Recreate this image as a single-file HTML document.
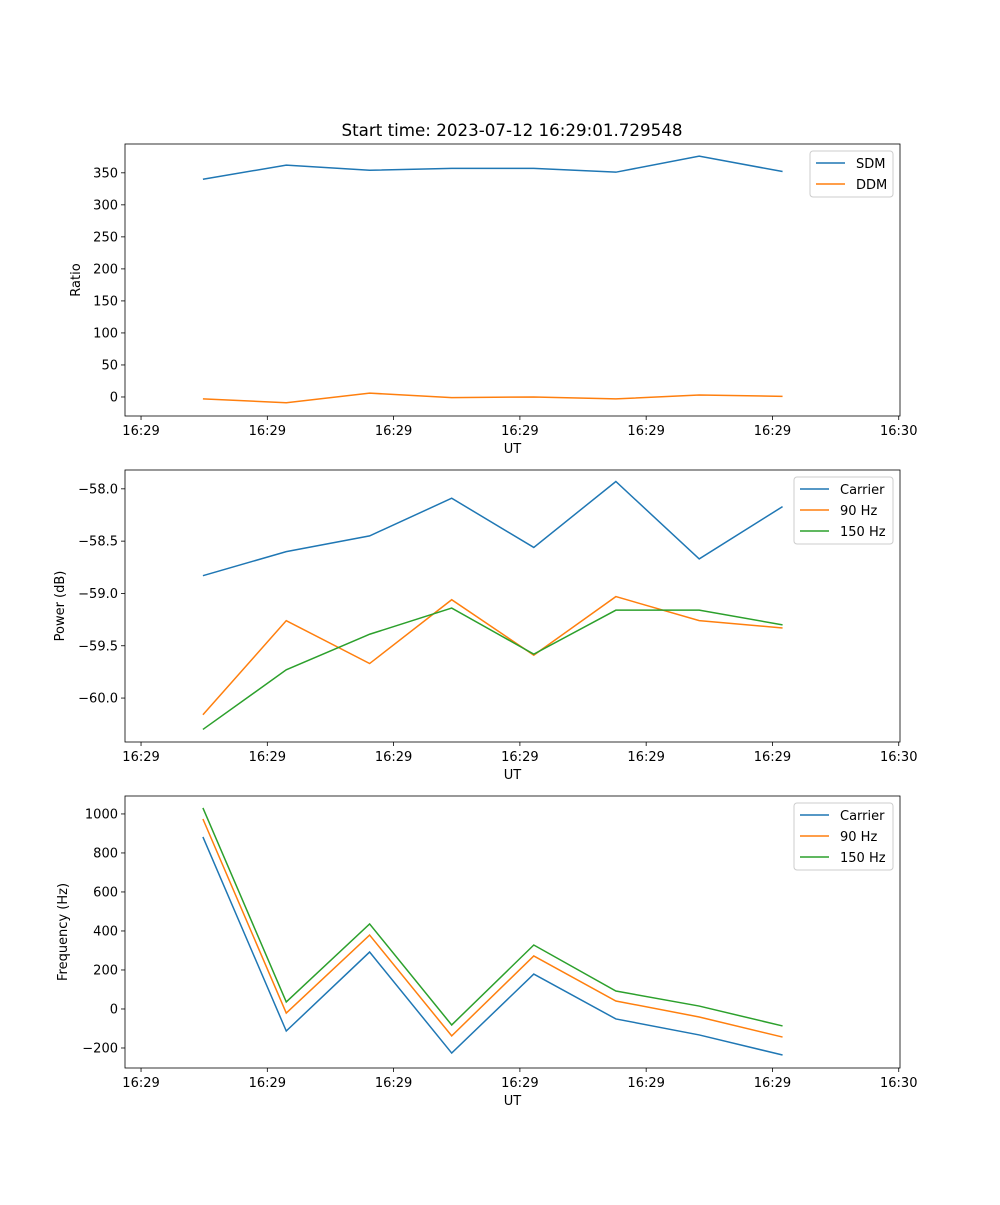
<!DOCTYPE html>
<html><head><meta charset="utf-8"><style>
body{margin:0;background:#fff}
svg text{font-family:"DejaVu Sans","Liberation Sans",sans-serif;font-size:13px;fill:#000}
</style></head><body>
<svg id="fig" width="1000" height="1200" xmlns="http://www.w3.org/2000/svg">
<text x="512" y="136" text-anchor="middle" style="font-size:16.7px">Start time: 2023-07-12 16:29:01.729548</text>
</svg>
<script>
const xTimes = [4.9, 11.5, 18.1, 24.6, 31.1, 37.6, 44.2, 50.8];
const xTicks = [0, 10, 20, 30, 40, 50, 60];
const xTickLabels = ["16:29","16:29","16:29","16:29","16:29","16:29","16:30"];
const sdm = [340, 362, 354, 357, 357, 351, 376, 352];
const ddm = [-3, -9, 6, -1, 0, -3, 3, 1];
const powCarrier = [-58.83, -58.60, -58.45, -58.09, -58.56, -57.93, -58.67, -58.17];
const pow90 = [-60.16, -59.26, -59.67, -59.06, -59.59, -59.03, -59.26, -59.33];
const pow150 = [-60.30, -59.73, -59.39, -59.14, -59.58, -59.16, -59.16, -59.30];
const freqCarrier = [882, -113, 292, -226, 179, -51, -133, -236];
const freq90 = [974, -21, 379, -138, 272, 41, -41, -144];
const freq150 = [1031, 36, 436, -82, 328, 92, 15, -87];
const ticks1 = [0, 50, 100, 150, 200, 250, 300, 350];
const ticks2 = [-60.0, -59.5, -59.0, -58.5, -58.0];
const ticks3 = [-200, 0, 200, 400, 600, 800, 1000];

const NS = "http://www.w3.org/2000/svg";
const svg = document.getElementById('fig');
const C = ['#1f77b4', '#ff7f0e', '#2ca02c'];
function mk(tag, attrs, parent) {
  const e = document.createElementNS(NS, tag);
  for (const k in attrs) e.setAttribute(k, attrs[k]);
  (parent || svg).appendChild(e);
  return e;
}
function panel(name, top, ymin, ymax, yticks, fmt, ylabel, series, names, legendW) {
  const L = 125, R = 900, B = top + 272;
  const g = mk('g', {});
  
  
  const xs = v => L + (v - (-1.27)) / (60.1 - (-1.27)) * (R - L);
  const ys = v => B - (v - ymin) / (ymax - ymin) * (B - top);
  xTicks.forEach((t, i) => {
    const x = xs(t);
    mk('line', {x1: x, x2: x, y1: B, y2: B + 4, stroke: '#000', 'stroke-width': 0.8}, g);
    const tx = mk('text', {x: x, y: B + 19, 'text-anchor': 'middle'}, g);
    
    
    tx.textContent = xTickLabels[i];
  });
  yticks.forEach(t => {
    const y = ys(t);
    mk('line', {x1: L - 4, x2: L, y1: y, y2: y, stroke: '#000', 'stroke-width': 0.8}, g);
    const tx = mk('text', {x: L - 7, y: y + 4.5, 'text-anchor': 'end'}, g);
    
    
    tx.textContent = fmt(t);
  });
  const xl = mk('text', {x: (L + R) / 2, y: B + 37, 'text-anchor': 'middle'}, g);
  
  
  xl.textContent = 'UT';
  const yl = mk('text', {x: 0, y: 0, 'text-anchor': 'middle', transform: `translate(${ylabel[1]},${(top + B) / 2}) rotate(-90)`}, g);
  
  
  yl.textContent = ylabel[0];
  series.forEach((s, i) => {
    const p = mk('polyline', {points: s.map((v, j) => xs(xTimes[j]) + ',' + ys(v)).join(' '), fill: 'none', stroke: C[i], 'stroke-width': 1.5}, g);
    
    
  });
  mk('rect', {x: L, y: top, width: R - L, height: B - top, fill: 'none', stroke: '#000', 'stroke-width': 0.8}, g);
  const lx = 893 - legendW, ly = top + 7;
  const lg = mk('g', {}, g);
  
  
  mk('rect', {x: lx, y: ly, width: legendW, height: 4 + 21 * names.length, rx: 3, fill: '#fff', 'fill-opacity': 0.8, stroke: '#ccc', 'stroke-width': 1}, lg);
  names.forEach((n, i) => {
    const y = ly + 12 + 21 * i;
    mk('line', {x1: lx + 6, x2: lx + 35, y1: y, y2: y, stroke: C[i], 'stroke-width': 1.5}, lg);
    const t = mk('text', {x: lx + 46, y: y + 5}, lg);
    
    
    t.textContent = n;
  });
}
const m = v => String(v).replace('-', '\u2212');
panel('ratio-panel', 144, -29.7, 395, ticks1, v => m(v), ['Ratio', 80], [sdm, ddm], ['SDM', 'DDM'], 83);
panel('power-panel', 470, -60.42, -57.82, ticks2, v => m(v.toFixed(1)), ['Power (dB)', 64], [powCarrier, pow90, pow150], ['Carrier', '90 Hz', '150 Hz'], 99);
panel('frequency-panel', 796, -302.6, 1092, ticks3, v => m(v), ['Frequency (Hz)', 67], [freqCarrier, freq90, freq150], ['Carrier', '90 Hz', '150 Hz'], 99);
</script>
</body></html>
